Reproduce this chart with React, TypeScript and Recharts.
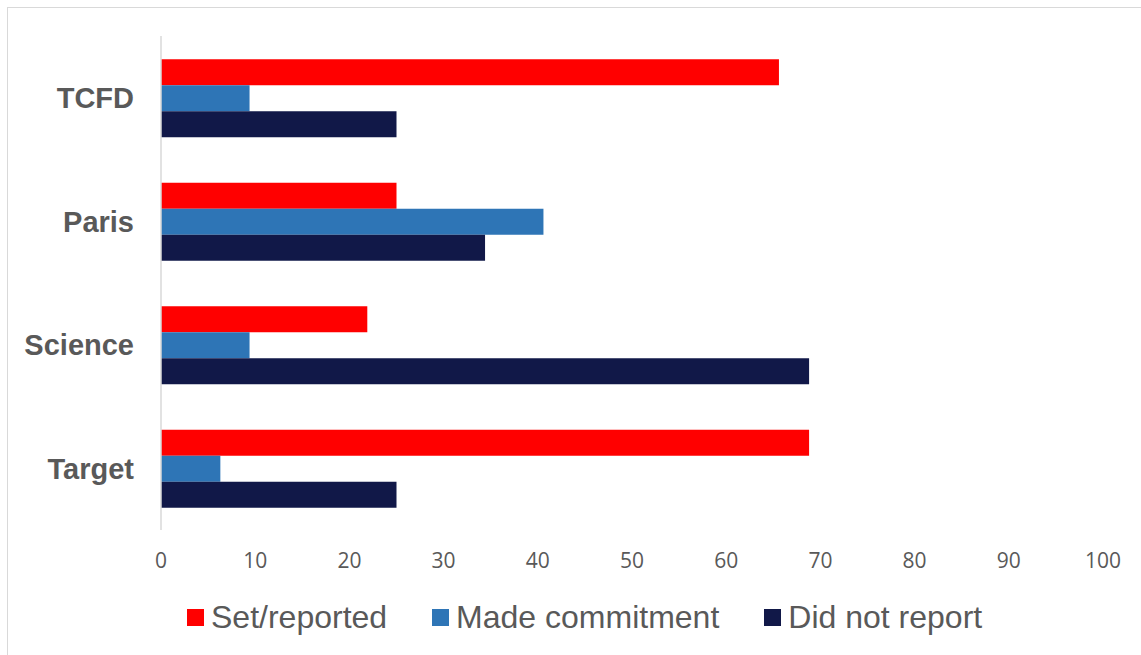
import React from 'react';
import { BarChart, Bar, XAxis, YAxis, Legend } from 'recharts';

const categories = ['TCFD', 'Paris', 'Science', 'Target'];
const setReported = [65.6, 25, 21.9, 68.8];
const madeCommitment = [9.4, 40.6, 9.4, 6.3];
const didNotReport = [25, 34.4, 68.8, 25];
const xTicks = [0, 10, 20, 30, 40, 50, 60, 70, 80, 90, 100];

const seriesNames = ['Set/reported', 'Made commitment', 'Did not report'];
const seriesKeys = ['setReported', 'madeCommitment', 'didNotReport'];
const seriesColors = ['#FF0000', '#2E75B6', '#111848'];

const data = categories.map((c, i) => ({
  category: c,
  setReported: setReported[i],
  madeCommitment: madeCommitment[i],
  didNotReport: didNotReport[i],
}));

const LegendContent = () => (
  <div style={{ height: 70, width: 1141, position: 'relative' }}>
    <div
      style={{
        position: 'absolute',
        top: 14,
        left: 187,
        display: 'flex',
        alignItems: 'center',
        height: 36,
        fontFamily: '"Liberation Sans", Arial, sans-serif',
        fontSize: 32,
        color: '#595959',
      }}
    >
      {seriesNames.map((n, i) => (
        <div key={n} style={{ display: 'flex', alignItems: 'center', marginRight: 45 }}>
          <div style={{ width: 17, height: 17, background: seriesColors[i], marginRight: 7 }} />
          <span style={{ whiteSpace: 'nowrap' }}>{n}</span>
        </div>
      ))}
    </div>
  </div>
);

export default function App() {
  return (
    <div
      style={{
        position: 'absolute',
        left: 0,
        top: 0,
        width: 1141,
        height: 655,
        overflow: 'hidden',
        background: '#ffffff',
      }}
    >
      <div
        style={{
          position: 'absolute',
          left: 7,
          top: 7,
          width: 1140,
          height: 660,
          borderTop: '1px solid #d9d9d9',
          borderLeft: '1px solid #d9d9d9',
        }}
      />
      <div style={{ position: 'absolute', left: 0, top: 0 }}>
        <BarChart
          width={1141}
          height={655}
          data={data}
          layout="vertical"
          margin={{ top: 36, right: 38, left: 0, bottom: 0 }}
          barCategoryGap="18.8%"
          barGap={0}
        >
          <XAxis
            type="number"
            domain={[0, 100]}
            ticks={xTicks}
            interval={0}
            axisLine={false}
            tickLine={false}
            tickSize={0}
            tickMargin={23}
            height={55}
            tick={{ fill: '#595959', fontSize: 21, fontFamily: '"Open Sans", sans-serif' }}
          />
          <YAxis
            type="category"
            dataKey="category"
            width={161}
            axisLine={{ stroke: '#d9d9d9', strokeWidth: 1.5 }}
            tickLine={false}
            tickSize={0}
            tickMargin={27}
            tick={{
              fill: '#595959',
              fontSize: 29,
              fontWeight: 'bold',
              fontFamily: '"Liberation Sans", Arial, sans-serif',
            }}
          />
          <Legend verticalAlign="bottom" content={<LegendContent />} wrapperStyle={{ left: 0, width: 1141 }} />
          {seriesKeys.map((k, i) => (
            <Bar key={k} dataKey={k} name={seriesNames[i]} fill={seriesColors[i]} isAnimationActive={false} />
          ))}
        </BarChart>
      </div>
    </div>
  );
}
